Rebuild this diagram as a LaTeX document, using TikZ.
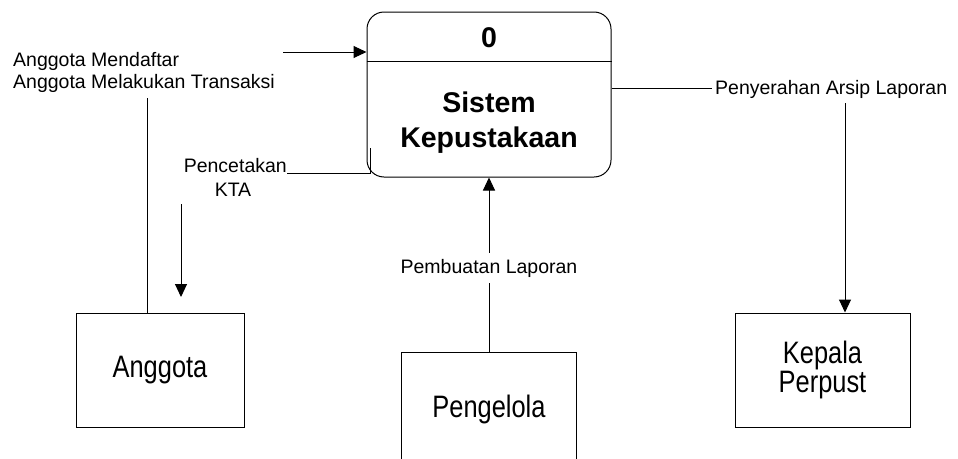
\documentclass[tikz,border=0pt]{standalone}
\usepackage{fontspec}
\setmainfont{Liberation Sans}
\newfontfamily\narrowfont[FakeStretch=0.82]{Liberation Sans}
\usetikzlibrary{arrows.meta}
% tight fixed line spacing for stacked labels
\setlength{\lineskiplimit}{-30pt}
\begin{document}
\begin{tikzpicture}[x=1pt,y=-1pt,
  flow/.style={line width=1pt, draw=black},
  arrowflow/.style={flow, -{Triangle[length=13pt,width=12pt]}},
  lbl/.style={inner sep=0pt, font=\fontsize{19.5}{22}\selectfont},
  ttl/.style={inner sep=0pt, font=\bfseries\fontsize{28.5}{35}\selectfont},
  ent/.style={draw, line width=1pt, inner sep=0pt, align=center,
    minimum height=114pt,
    font=\narrowfont\fontsize{31}{29.5}\selectfont},
  procbox/.style={draw, line width=1pt, rounded corners=17pt,
    minimum width=244pt, minimum height=165pt, inner sep=0pt}
]
\useasboundingbox (0,0) rectangle (958,458);
\clip (0,0) rectangle (958,458);

% process
\node[procbox] (proc) at (489,94.5) {};
\coordinate (divY) at (0,61);
\draw[flow] (proc.west |- divY) -- (proc.east |- divY);
\node[ttl, anchor=base] (pnum) at (489,47) {0};
\node[ttl, anchor=base] (pnameA) at (489,112) {Sistem};
\node[ttl, anchor=base] (pnameB) at (489,147) {Kepustakaan};

% external entities
\node[ent, minimum width=168pt] (ang) at (160,370) {Anggota};
\node[ent, minimum width=175pt] (peng) at (489,409) {Pengelola};
\node[ent, minimum width=175pt] (kep) at (822.5,370) {Kepala\\Perpust};

% flow labels
\node[lbl, anchor=base west] (inA) at (13,66) {Anggota Mendaftar};
\node[lbl, anchor=base west] (inB) at (13,88) {Anggota Melakukan Transaksi};
\node[lbl, anchor=base east] (outA) at (287,172) {Pencetakan};
\node[lbl, anchor=base] (outB) at (233,196) {KTA};
\node[lbl, anchor=base west] (rep) at (715,94) {Penyerahan Arsip Laporan};

% Anggota -> process
\coordinate (inStart) at (283,52);
\draw[arrowflow] (inStart) -- (inStart -| proc.west);
\coordinate (angTop) at (147,98);
\draw[flow] (angTop) -- (angTop |- ang.north);

% process -> Anggota (KTA)
\coordinate (ktaStart) at (370,148);
\coordinate (ktaEnd) at (287,173);
\draw[flow] (ktaStart) |- (ktaEnd);
\coordinate (ktaFrom) at (181,204);
\coordinate (ktaTo) at (181,297);
\draw[arrowflow] (ktaFrom) -- (ktaTo);

% Pengelola -> process
\draw[arrowflow] (peng.north) -- (proc.south)
  node[lbl, pos=0.48, fill=white, inner xsep=2pt, inner ysep=6pt] (mk) {Pembuatan Laporan};

% process -> Kepala Perpust
\coordinate (repY) at (0,88);
\coordinate (repEnd) at (712,88);
\draw[flow] (proc.east |- repY) -- (repEnd);
\coordinate (repDown) at (845,103);
\draw[arrowflow] (repDown) -- (repDown |- kep.north);
\end{tikzpicture}
\end{document}
